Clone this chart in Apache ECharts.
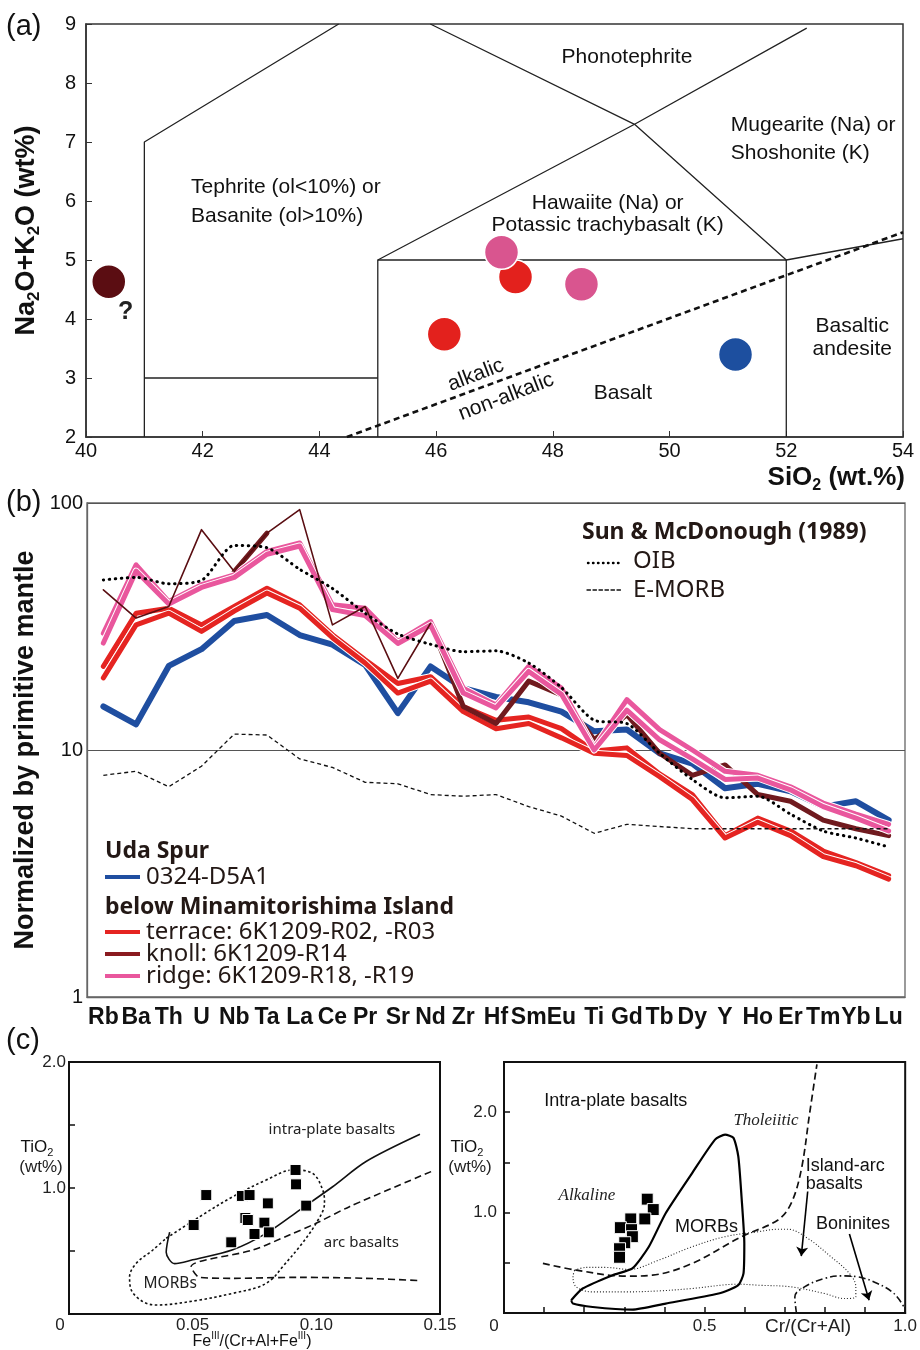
<!DOCTYPE html>
<html>
<head>
<meta charset="utf-8">
<script src="https://cdn.jsdelivr.net/npm/echarts@6/dist/echarts.min.js"></script>
<style>
  html, body { margin: 0; padding: 0; background: #fff; }
  #chart { width: 920px; height: 1350px; }
</style>
</head>
<body>
<div id="chart"></div>
<script>
// ---- (a) TAS diagram ----
const tasFieldLines = [
  [[41, 2], [41, 7], [44.33, 9]],
  [[41, 3], [45, 3]],
  [[45, 2], [45, 5], [52, 5], [52, 2]],
  [[45, 5], [49.4, 7.3], [52.35, 8.93]],
  [[45.9, 9], [49.4, 7.3], [52, 5], [54, 5.36]]
]
const tasAlkalicLine = [[44.47, 2], [54, 5.47]]
const tasKnoll = [[40.39, 4.63]]
const tasTerrace = [[46.14, 3.74], [47.36, 4.71]]
const tasUda = [[51.13, 3.40]]
const tasRidge = [[47.12, 5.13], [48.49, 4.59]]

// ---- (b) spider diagram ----
const elements = ['Rb', 'Ba', 'Th', 'U', 'Nb', 'Ta', 'La', 'Ce', 'Pr', 'Sr', 'Nd', 'Zr', 'Hf', 'Sm', 'Eu', 'Ti', 'Gd', 'Tb', 'Dy', 'Y', 'Ho', 'Er', 'Tm', 'Yb', 'Lu']
const uda = [15.0, 12.7, 21.9, 25.6, 33.3, 35.2, 29.2, 26.7, 22.1, 14.1, 21.8, 17.8, 16.4, 15.6, 14.3, 11.9, 12.1, 9.7, 8.8, 7.0, 7.3, 6.8, 5.9, 6.2, 5.2]
const terrace1 = [21.8, 35.8, 37.5, 32.1, 38.1, 45.2, 38.7, 29.3, 23.2, 18.6, 19.8, 15.0, 13.2, 13.6, 12.2, 9.9, 10.2, 8.0, 6.6, 4.5, 5.3, 4.7, 3.9, 3.5, 3.1]
const terrace2 = [19.6, 32.1, 35.8, 30.2, 36.5, 43.2, 37.5, 28.5, 22.5, 17.0, 19.0, 14.3, 12.2, 12.8, 11.2, 9.7, 9.5, 7.8, 6.3, 4.4, 5.1, 4.5, 3.7, 3.4, 3.0]
const knollThin = [44.5, 34.2, 38.1, 78, 52.8, 75.5, 94, 32.1, 38.1, 19.5, 32.6, null, null, null, null, null, null, null, null, null, null, null, null, null, null]
const knollThick = [null, null, null, null, 52.8, 75.5, null, null, null, null, 32.6, 15.0, 12.8, 19.0, 16.7, 11.0, 13.9, 9.7, 7.9, 8.7, 6.6, 6.2, 5.2, 4.8, 4.5]
const ridge1 = [29.7, 56.2, 39.9, 46.7, 51.2, 63.7, 68.9, 38.7, 37.5, 27.5, 33.1, 17.8, 15.2, 21.8, 17.8, 10.2, 16.0, 12.1, 10.0, 8.2, 7.9, 7.1, 6.1, 5.5, 5.0]
const ridge2 = [27.1, 53.0, 39.0, 45.5, 50.0, 62.0, 67.0, 37.0, 35.0, 27.0, 32.0, 17.0, 14.8, 20.8, 16.8, 10.0, 14.5, 11.0, 9.2, 7.6, 7.7, 6.9, 5.9, 5.3, 4.7]
const oib = [48.8, 50.0, 47.1, 48.6, 67.3, 65.9, 53.9, 45.1, 35.8, 29.5, 26.8, 25.0, 25.2, 22.5, 17.9, 13.2, 12.8, 9.7, 7.6, 6.4, 6.5, 5.5, 4.7, 4.4, 4.05]
const emorb = [7.9, 8.2, 7.1, 8.6, 11.6, 11.5, 9.2, 8.5, 7.4, 7.3, 6.6, 6.5, 6.6, 5.9, 5.4, 4.6, 5.0, 4.9, 4.8, 4.8, 4.8, 4.8, 4.8, 4.8, 4.8]

// ---- (c) spinel diagrams ----
const feSolid = [[0.0407, 0.65], [0.0393, 0.49], [0.0427, 0.40], [0.050, 0.43], [0.0662, 0.51], [0.0797, 0.64], [0.0932, 0.825], [0.1066, 1.01], [0.1201, 1.21], [0.1419, 1.426]]
const feDashed = [[0.1464, 1.13], [0.1134, 0.852], [0.0999, 0.72], [0.0891, 0.627], [0.0743, 0.508], [0.0494, 0.376], [0.0528, 0.291], [0.0662, 0.283], [0.0932, 0.291], [0.1201, 0.283], [0.1419, 0.265]]
const feMorb = [[0.0393, 0.601], [0.0528, 0.772], [0.0662, 0.931], [0.0797, 1.063], [0.0905, 1.143], [0.0985, 1.116], [0.1026, 0.984], [0.1033, 0.878], [0.0999, 0.72], [0.0932, 0.534], [0.0864, 0.376], [0.0824, 0.283], [0.077, 0.217], [0.0662, 0.164], [0.0528, 0.111], [0.0353, 0.071], [0.0299, 0.098], [0.0252, 0.19], [0.0245, 0.296], [0.0272, 0.402], [0.0339, 0.508], [0.0393, 0.601]]
const feSamples = [[0.0555, 0.944], [0.0504, 0.706], [0.0699, 0.937], [0.0730, 0.944], [0.0804, 0.878], [0.0916, 1.143], [0.0918, 1.029], [0.0959, 0.86], [0.0713, 0.762], [0.0723, 0.746], [0.079, 0.725], [0.075, 0.635], [0.0808, 0.648], [0.0656, 0.569]]

const crMorb = [[0.1675, 0.127], [0.196, 0.244], [0.2706, 0.377], [0.320, 0.444], [0.361, 0.66], [0.403, 0.994], [0.469, 1.394], [0.526, 1.727], [0.551, 1.777], [0.572, 1.744], [0.584, 1.56], [0.592, 1.16], [0.599, 0.694], [0.597, 0.394], [0.584, 0.277], [0.535, 0.194], [0.403, 0.094], [0.320, 0.034], [0.221, 0.06], [0.1716, 0.094], [0.1675, 0.127]]
const crDivide = [[0.097, 0.494], [0.180, 0.427], [0.304, 0.367], [0.370, 0.377], [0.469, 0.494], [0.592, 0.76], [0.683, 0.927], [0.716, 1.094], [0.741, 1.427], [0.762, 1.994], [0.780, 2.477]]
const crArc = [[0.176, 0.427], [0.205, 0.454], [0.254, 0.454], [0.312, 0.434], [0.386, 0.527], [0.469, 0.66], [0.551, 0.76], [0.634, 0.81], [0.683, 0.834], [0.708, 0.834], [0.757, 0.744], [0.815, 0.56], [0.861, 0.394], [0.877, 0.26], [0.877, 0.16], [0.848, 0.144], [0.799, 0.194], [0.716, 0.26], [0.634, 0.277], [0.584, 0.287], [0.469, 0.244], [0.386, 0.22], [0.304, 0.21], [0.221, 0.21], [0.180, 0.26], [0.172, 0.36], [0.176, 0.427]]
const crBoninite = [[0.729, 0.0], [0.725, 0.16], [0.749, 0.26], [0.799, 0.344], [0.840, 0.37], [0.881, 0.36], [0.931, 0.294], [0.972, 0.194], [0.997, 0.06]]
const crArrows = [[[0.757, 1.21], [0.741, 0.567]], [[0.861, 0.787], [0.910, 0.127]]]
const crSamples = [[0.357, 1.134], [0.372, 1.03], [0.351, 0.937], [0.316, 0.937], [0.290, 0.85], [0.318, 0.83], [0.320, 0.76], [0.301, 0.70], [0.288, 0.64], [0.288, 0.555]]

const FONT = '"Liberation Sans", Arial, sans-serif'
const NOTO = '"Noto Sans", sans-serif'
const SERIF = '"Liberation Serif", "DejaVu Serif", serif'

let chart = echarts.init(document.getElementById('chart'))

function polyline(pts, gi, style, smooth) {
  return {
    type: 'line', xAxisIndex: gi, yAxisIndex: gi, data: pts, symbol: 'none',
    smooth: smooth || false, silent: true, lineStyle: style
  }
}

function textMarks(gi, items) {
  return {
    type: 'scatter', xAxisIndex: gi, yAxisIndex: gi, symbolSize: 1, silent: true, z: 10,
    itemStyle: { color: 'rgba(0,0,0,0)', opacity: 1 },
    data: items.map(it => ({
      value: it.at,
      label: Object.assign({
        show: true, position: 'inside', formatter: it.text, opacity: 1,
        color: '#111', fontFamily: FONT, fontSize: 21
      }, it.style)
    }))
  }
}

function spider(data, color, width, halo) {
  let out = []
  if (halo) {
    out.push({
      type: 'line', xAxisIndex: 1, yAxisIndex: 1, data: data, symbol: 'none', silent: true,
      lineStyle: { color: '#fff', width: width + 2, join: 'round', cap: 'round' }
    })
  }
  out.push({
    type: 'line', xAxisIndex: 1, yAxisIndex: 1, data: data, symbol: 'none', silent: true,
    lineStyle: { color: color, width: width, join: 'round', cap: 'round' }
  })
  return out
}

function tasDots(data, color, extra) {
  return Object.assign({
    type: 'scatter', xAxisIndex: 0, yAxisIndex: 0, data: data, symbolSize: 34, silent: true,
    itemStyle: { color: color, borderColor: '#fff', borderWidth: 1.5, opacity: 1 }, z: 5
  }, extra)
}

function gText(x, y, text, font, align, extra) {
  return {
    type: 'text', x: x, y: y, silent: true,
    style: Object.assign({
      text: text, font: font, fill: '#111',
      align: align || 'left', verticalAlign: 'middle',
      textAlign: align || 'left', textVerticalAlign: 'middle'
    }, extra || {})
  }
}

function gLine(x1, y1, x2, y2, stroke, width, dash) {
  return {
    type: 'line', silent: true,
    shape: { x1: x1, y1: y1, x2: x2, y2: y2 },
    style: { stroke: stroke, lineWidth: width, lineDash: dash || null, lineCap: dash ? 'round' : 'butt' }
  }
}

const subRich = (size, bold) => ({
  t: { fontSize: size, fontWeight: bold ? 'bold' : 'normal', fontFamily: FONT, color: '#111', lineHeight: size + 5 },
  s: { fontSize: Math.round(size * 0.62), fontWeight: bold ? 'bold' : 'normal', fontFamily: FONT, color: '#111', verticalAlign: 'bottom', lineHeight: Math.round(size * 0.62) + 2 },
  p: { fontSize: Math.round(size * 0.62), fontFamily: FONT, color: '#111', verticalAlign: 'top', lineHeight: Math.round(size * 0.62) + 2 }
})

let series = []

// (a)
tasFieldLines.forEach(pts => series.push(polyline(pts, 0, { color: '#222', width: 1.3 })))
series.push(polyline(tasAlkalicLine, 0, { color: '#111', width: 2.6, type: [6, 4] }))
series.push(tasDots(tasKnoll, '#5b0d12', {
  label: { show: true, position: 'inside', offset: [17, 30], formatter: '?', color: '#222', opacity: 1, fontSize: 25, fontWeight: 'bold', fontFamily: FONT }
}))
series.push(tasDots(tasTerrace, '#e3211d'))
series.push(tasDots(tasUda, '#1d4f9f'))
series.push(tasDots(tasRidge, '#d9558f'))
series.push(textMarks(0, [
  { at: [49.27, 8.44], text: 'Phonotephrite' },
  { at: [41.8, 5.99], text: 'Tephrite (ol<10%) or\nBasanite (ol>10%)', style: { align: 'left', lineHeight: 29 } },
  { at: [51.05, 7.05], text: 'Mugearite (Na) or\nShoshonite (K)', style: { align: 'left', lineHeight: 28 } },
  { at: [48.94, 5.78], text: 'Hawaiite (Na) or\nPotassic trachybasalt (K)', style: { lineHeight: 22 } },
  { at: [49.2, 2.75], text: 'Basalt' },
  { at: [53.13, 3.69], text: 'Basaltic\nandesite', style: { lineHeight: 23 } },
  { at: [46.68, 3.05], text: 'alkalic', style: { rotate: 21 } },
  { at: [47.2, 2.68], text: 'non-alkalic', style: { rotate: 21 } }
]))

// (b)
series.push(...spider(uda, '#1f4ea0', 6, false))
series.push(...spider(terrace1, '#e52421', 5, true))
series.push(...spider(terrace2, '#e52421', 5, true))
series.push(...spider(knollThick, '#701a1e', 5, false))
series.push(...spider(ridge1, '#e9579d', 5, true))
series.push(...spider(ridge2, '#e9579d', 5, true))
series.push(...spider(knollThin, '#5a0e12', 1.6, false))
series.push({
  type: 'line', xAxisIndex: 1, yAxisIndex: 1, data: oib, symbol: 'none', silent: true, smooth: 0.25,
  lineStyle: { color: '#000', width: 3, type: [0.5, 5.5], cap: 'round' }
})
series.push({
  type: 'line', xAxisIndex: 1, yAxisIndex: 1, data: emorb, symbol: 'none', silent: true,
  lineStyle: { color: '#111', width: 1.3, type: [4, 3] }
})

// (c) left
series.push(polyline(feMorb, 2, { color: '#111', width: 1.6, type: [2.5, 2.5] }, 0.35))
series.push(polyline(feSolid, 2, { color: '#111', width: 1.6 }, 0.3))
series.push(polyline(feDashed, 2, { color: '#111', width: 1.6, type: [7, 4] }, 0.3))
series.push({
  type: 'scatter', xAxisIndex: 2, yAxisIndex: 2, data: feSamples, symbol: 'rect', symbolSize: 11,
  itemStyle: { color: '#000', borderColor: '#fff', borderWidth: 1, opacity: 1 }, z: 5, silent: true
})
series.push(textMarks(2, [
  { at: [0.1063, 1.46], text: 'intra-plate basalts', style: { fontFamily: NOTO, fontSize: 15, color: '#222' } },
  { at: [0.1182, 0.563], text: 'arc basalts', style: { fontFamily: NOTO, fontSize: 15, color: '#222' } },
  { at: [0.0409, 0.238], text: 'MORBs', style: { fontFamily: NOTO, fontSize: 15.5, color: '#222' } }
]))

// (c) right
series.push(polyline(crArc, 3, { color: '#222', width: 1.1, type: [1, 2] }, 0.35))
series.push(polyline(crBoninite, 3, { color: '#111', width: 1.6, type: [7, 3, 1.5, 3] }, 0.4))
series.push(polyline(crDivide, 3, { color: '#111', width: 1.7, type: [7, 4] }, 0.35))
series.push(polyline(crMorb, 3, { color: '#000', width: 2.2 }, 0.2))
series.push({
  type: 'lines', coordinateSystem: 'cartesian2d', xAxisIndex: 3, yAxisIndex: 3, silent: true,
  symbol: ['none', 'arrow'], symbolSize: 9,
  lineStyle: { color: '#000', width: 1.6, opacity: 1 },
  data: crArrows.map(c => ({ coords: c }))
})
series.push({
  type: 'scatter', xAxisIndex: 3, yAxisIndex: 3, data: crSamples, symbol: 'rect', symbolSize: 12,
  itemStyle: { color: '#000', borderColor: '#fff', borderWidth: 1, opacity: 1 }, z: 5, silent: true
})
series.push(textMarks(3, [
  { at: [0.2785, 2.107], text: 'Intra-plate basalts', style: { fontSize: 18 } },
  { at: [0.653, 1.917], text: 'Tholeiitic', style: { fontFamily: SERIF, fontStyle: 'italic', fontSize: 17, color: '#222' } },
  { at: [0.2067, 1.167], text: 'Alkaline', style: { fontFamily: SERIF, fontStyle: 'italic', fontSize: 17, color: '#222' } },
  { at: [0.505, 0.857], text: 'MORBs', style: { fontSize: 18 } },
  { at: [0.752, 1.377], text: 'Island-arc\nbasalts', style: { fontSize: 18, align: 'left', lineHeight: 18 } },
  { at: [0.870, 0.887], text: 'Boninites', style: { fontSize: 18 } }
]))

const near = (a, b) => Math.abs(a - b) < 1e-9

let chartOpt = {
  animation: false,
  backgroundColor: '#fff',
  grid: [
    { left: 86, top: 24, width: 817, height: 413, show: true, borderColor: '#333', borderWidth: 1.5 },
    { left: 87, top: 503, width: 818, height: 494, show: true, borderColor: '#666', borderWidth: 1.3 },
    { left: 69, top: 1062, width: 371, height: 252, show: true, borderColor: '#111', borderWidth: 2 },
    { left: 504, top: 1062, width: 404, height: 251, show: true, borderColor: '#111', borderWidth: 2 }
  ],
  xAxis: [
    {
      gridIndex: 0, type: 'value', min: 40, max: 54, interval: 2,
      axisLine: { lineStyle: { color: '#333', width: 1.5 } },
      axisTick: { inside: true, length: 6, lineStyle: { color: '#333' } },
      axisLabel: { fontSize: 20, color: '#111', fontFamily: FONT, margin: 4 },
      splitLine: { show: false }
    },
    {
      gridIndex: 1, type: 'category', data: elements, boundaryGap: true,
      axisLine: { lineStyle: { color: '#666', width: 1.3 } },
      axisTick: { show: false },
      axisLabel: { interval: 0, fontSize: 23, fontWeight: 'bold', color: '#111', fontFamily: FONT, margin: 9 },
      splitLine: { show: false }
    },
    {
      gridIndex: 2, type: 'value', min: 0, max: 0.15, interval: 0.05,
      axisLine: { lineStyle: { color: '#111', width: 2 } },
      axisTick: { show: false },
      axisLabel: {
        fontSize: 17, color: '#222', fontFamily: FONT, margin: 3,
        formatter: v => near(v, 0) ? '{z|0}' : v.toFixed(2),
        rich: { z: { fontSize: 17, fontFamily: FONT, color: '#222', padding: [0, 18, 0, 0] } }
      },
      splitLine: { show: false }
    },
    {
      gridIndex: 3, type: 'value', min: 0, max: 1, interval: 0.1,
      axisLine: { lineStyle: { color: '#111', width: 2 } },
      axisTick: { inside: true, length: 6, lineStyle: { color: '#111', width: 1.5 } },
      axisLabel: {
        fontSize: 17, color: '#222', fontFamily: FONT, margin: 5,
        formatter: v => near(v, 0) ? '{z|0}' : near(v, 0.5) ? '0.5' : near(v, 1) ? '1.0' : '',
        rich: { z: { fontSize: 17, fontFamily: FONT, color: '#222', padding: [0, 20, 0, 0] } }
      },
      splitLine: { show: false }
    }
  ],
  yAxis: [
    {
      gridIndex: 0, type: 'value', min: 2, max: 9, interval: 1,
      axisLine: { lineStyle: { color: '#333', width: 1.5 } },
      axisTick: { inside: true, length: 6, lineStyle: { color: '#333' } },
      axisLabel: { fontSize: 20, color: '#111', fontFamily: FONT, margin: 10 },
      splitLine: { show: false },
      name: '{t|Na}{s|2}{t|O+K}{s|2}{t|O (wt%)}',
      nameLocation: 'middle', nameGap: 43, nameRotate: 90,
      nameTextStyle: { rich: subRich(27, true) }
    },
    {
      gridIndex: 1, type: 'log', logBase: 10, min: 1, max: 100,
      axisLine: { show: true, lineStyle: { color: '#666', width: 1.3 } },
      axisTick: { show: false },
      axisLabel: { fontSize: 20, color: '#111', fontFamily: FONT, margin: 4 },
      splitLine: { show: true, lineStyle: { color: '#555', width: 1 } },
      minorSplitLine: { show: false },
      name: 'Normalized by primitive mantle',
      nameLocation: 'middle', nameGap: 47, nameRotate: 90,
      nameTextStyle: { fontSize: 27, fontWeight: 'bold', fontFamily: FONT, color: '#111' }
    },
    {
      gridIndex: 2, type: 'value', min: 0, max: 2, interval: 0.5,
      axisLine: { lineStyle: { color: '#111', width: 2 } },
      axisTick: { inside: true, length: 6, lineStyle: { color: '#111', width: 1.5 } },
      axisLabel: {
        fontSize: 17, color: '#222', fontFamily: FONT, margin: 3,
        formatter: v => near(v, 1) ? '1.0' : near(v, 2) ? '2.0' : ''
      },
      splitLine: { show: false }
    },
    {
      gridIndex: 3, type: 'value', min: 0, max: 2.5, interval: 0.5,
      axisLine: { lineStyle: { color: '#111', width: 2 } },
      axisTick: { inside: true, length: 6, lineStyle: { color: '#111', width: 1.5 } },
      axisLabel: {
        fontSize: 17, color: '#222', fontFamily: FONT, margin: 7,
        formatter: v => near(v, 1) ? '1.0' : near(v, 2) ? '2.0' : ''
      },
      splitLine: { show: false }
    }
  ],
  graphic: [
    gText(6, 27, '(a)', '29px ' + FONT),
    gText(6, 503, '(b)', '29px ' + FONT),
    gText(6, 1041, '(c)', '29px ' + FONT),
    gText(905, 478, '{t|SiO}{s|2}{t| (wt.%)}', '', 'right', { rich: subRich(26, true) }),

    // (b) reference legend
    gText(582, 532, 'Sun & McDonough (1989)', 'bold 23px ' + NOTO, 'left', { fill: '#231815' }),
    gLine(588, 563, 622, 563, '#000', 2.4, [0.5, 4.5]),
    gText(633, 561, 'OIB', '24px ' + NOTO, 'left', { fill: '#231815' }),
    gLine(587, 590, 622, 590, '#111', 1.3, [3.5, 2.5]),
    gText(633, 590, 'E-MORB', '24px ' + NOTO, 'left', { fill: '#231815' }),

    // (b) sample legend
    gText(105, 851, 'Uda Spur', 'bold 23px ' + NOTO, 'left', { fill: '#231815' }),
    gLine(105, 877, 140, 877, '#1f4ea0', 4),
    gText(146, 877, '0324-D5A1', '24px ' + NOTO, 'left', { fill: '#231815' }),
    gText(105, 907, 'below Minamitorishima Island', 'bold 23px ' + NOTO, 'left', { fill: '#231815' }),
    gLine(105, 932, 140, 932, '#e52421', 4),
    gText(146, 932, 'terrace: 6K1209-R02, -R03', '24px ' + NOTO, 'left', { fill: '#231815' }),
    gLine(105, 954, 140, 954, '#8a1a20', 4),
    gText(146, 954, 'knoll: 6K1209-R14', '24px ' + NOTO, 'left', { fill: '#231815' }),
    gLine(105, 976, 140, 976, '#e9579d', 4),
    gText(146, 976, 'ridge: 6K1209-R18, -R19', '24px ' + NOTO, 'left', { fill: '#231815' }),

    // (c) axis titles
    gText(37, 1147, '{t|TiO}{s|2}', '', 'center', { rich: subRich(17, false) }),
    gText(41, 1167, '(wt%)', '17px ' + FONT, 'center', { fill: '#222' }),
    gText(467, 1147, '{t|TiO}{s|2}', '', 'center', { rich: subRich(17, false) }),
    gText(470, 1167, '(wt%)', '17px ' + FONT, 'center', { fill: '#222' }),
    gText(252, 1342, '{t|Fe}{p|III}{t|/(Cr+Al+Fe}{p|III}{t|)}', '', 'center', { rich: subRich(16, false) }),
    gText(808, 1327, 'Cr/(Cr+Al)', '19px ' + FONT, 'center', { fill: '#222' })
  ],
  series: series
}

chart.setOption(chartOpt)
</script>
</body>
</html>
